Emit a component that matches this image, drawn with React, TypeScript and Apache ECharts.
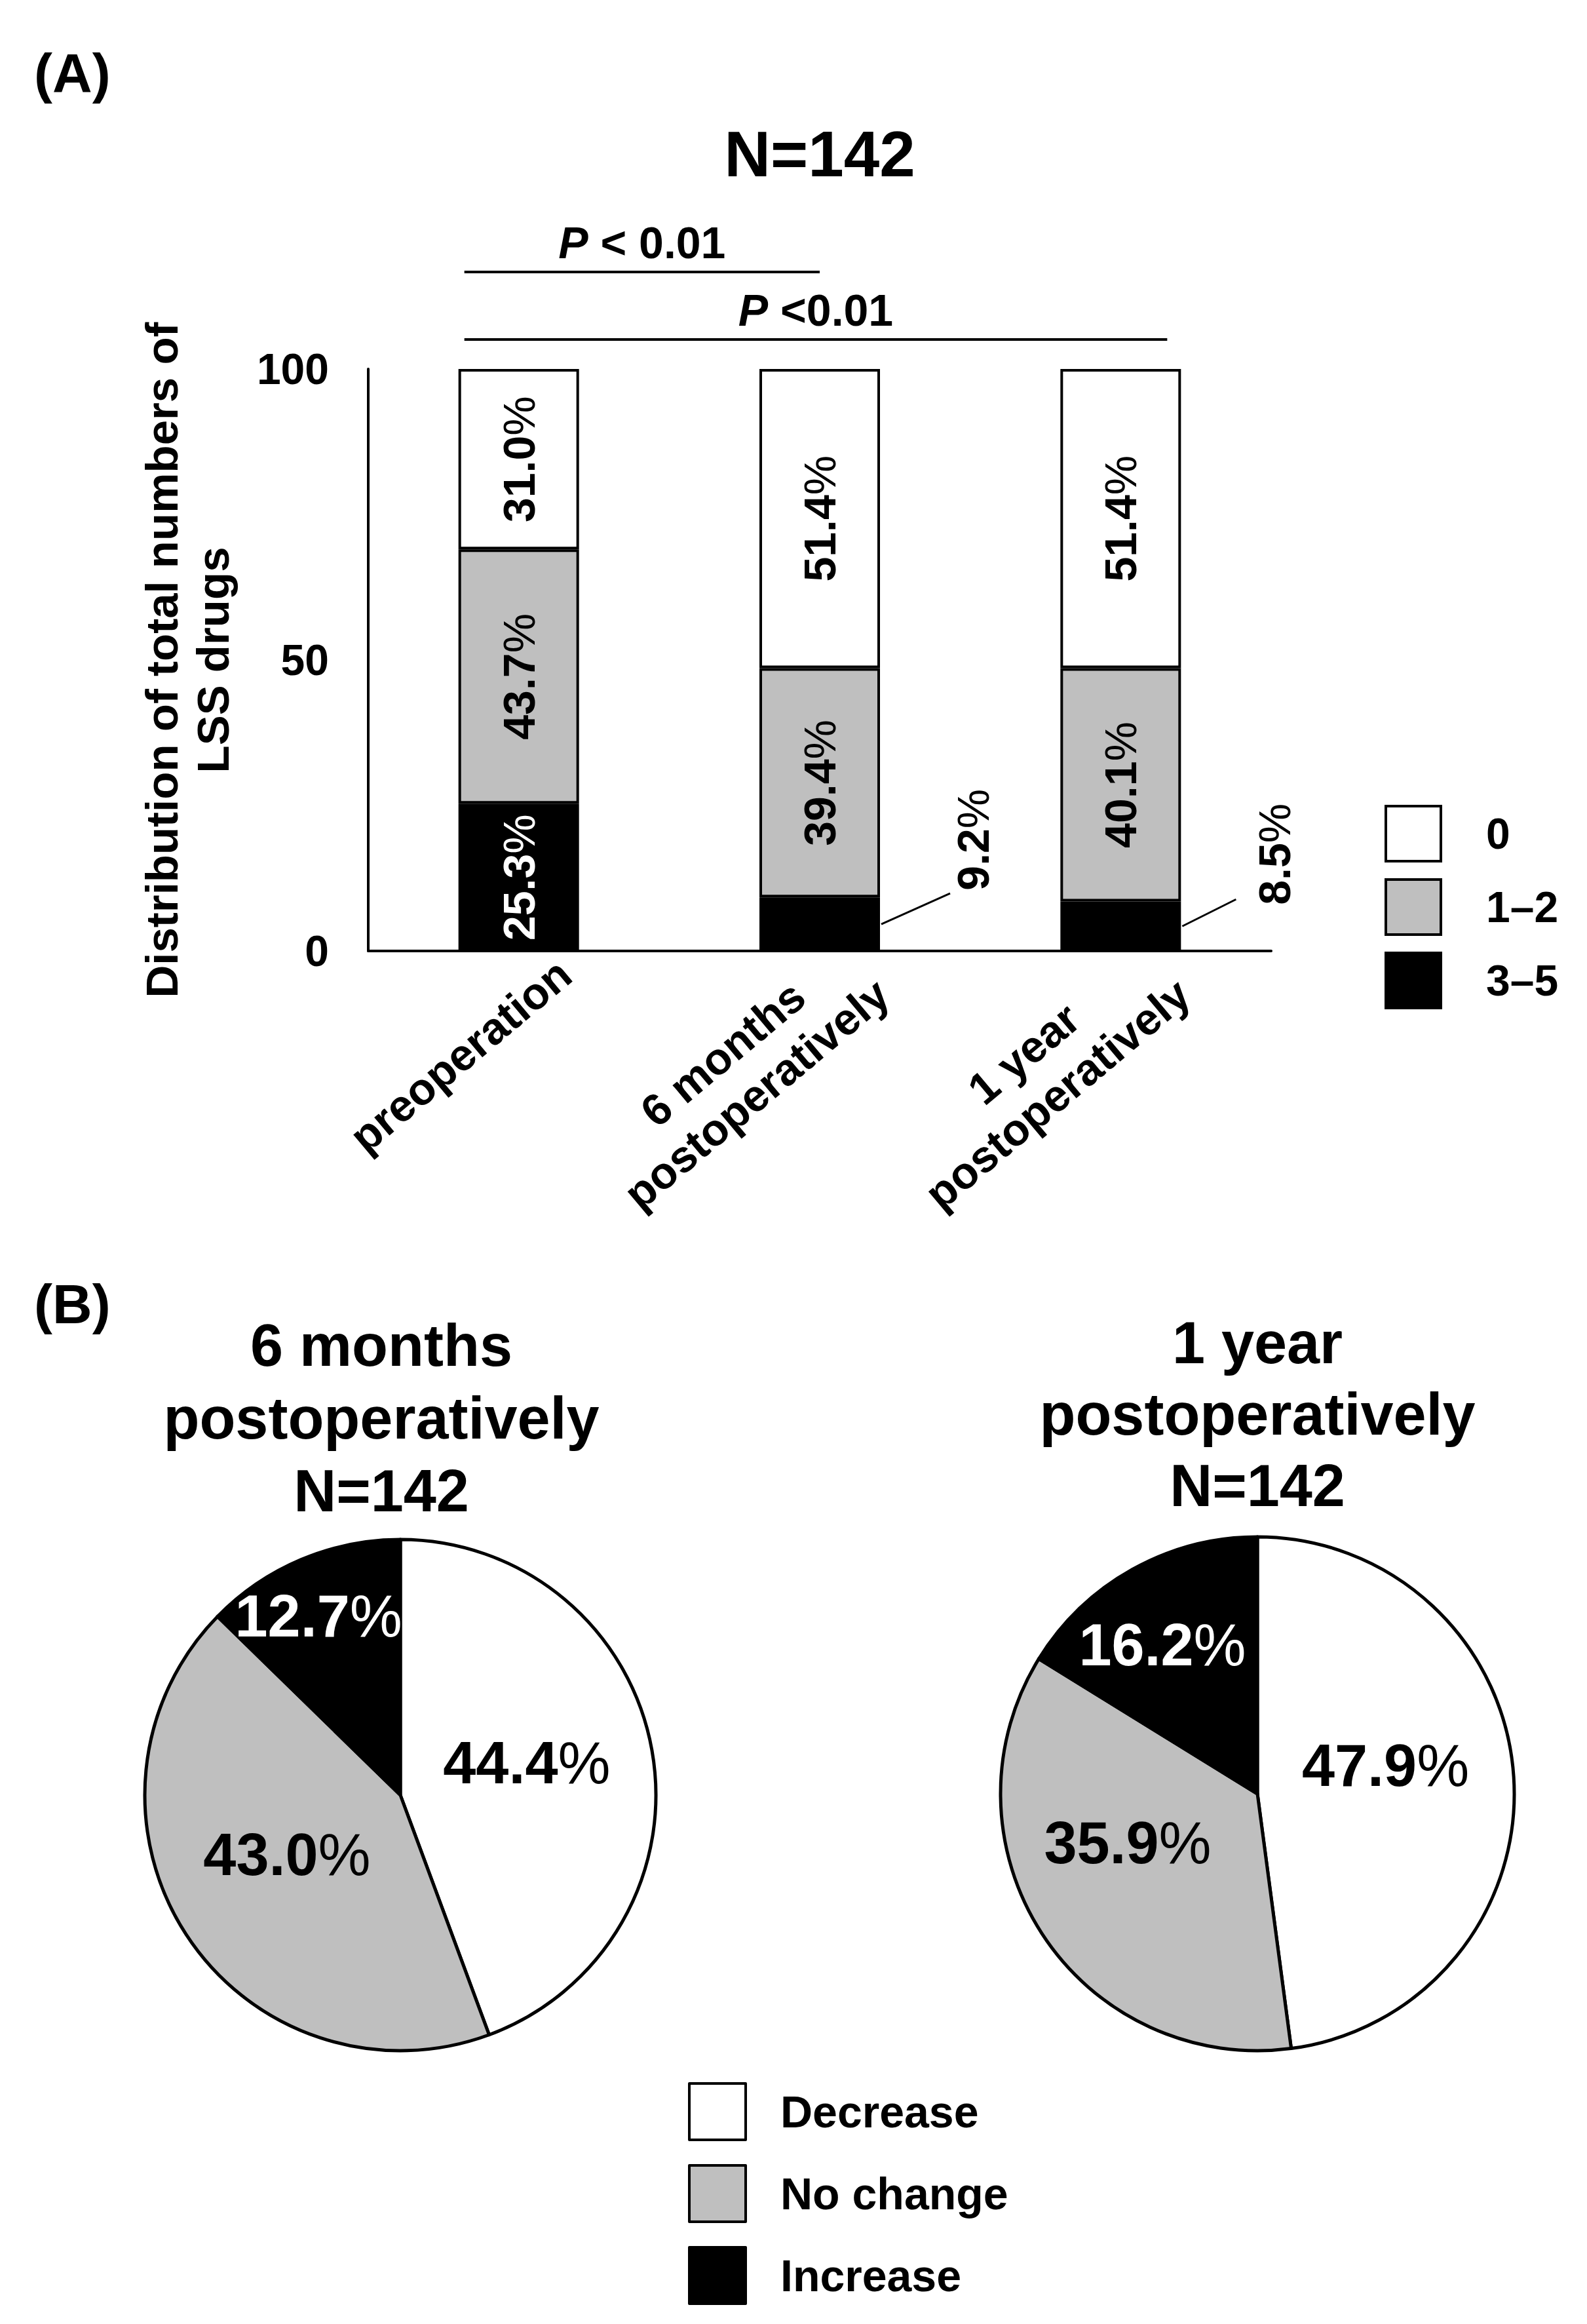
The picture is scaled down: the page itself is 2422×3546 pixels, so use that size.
import React, { useEffect, useRef } from 'react';
import * as echarts from 'echarts';

// ---------------- data ----------------
const categories = ['preoperation', '6 months\npostoperatively', '1 year\npostoperatively'];
const groupNames = ['3–5', '1–2', '0']; // stack order, bottom → top
const share35 = [25.3, 9.2, 8.5];
const share12 = [43.7, 39.4, 40.1];
const share0 = [31.0, 51.4, 51.4];
const yTicks = [0, 50, 100];
const legendOrder = ['0', '1–2', '3–5'];
const outsideLabelIdx = [1, 2];

const pieNames = ['Decrease', 'No change', 'Increase'];
const pie6Months = [44.4, 43.0, 12.7];
const pie1Year = [47.9, 35.9, 16.2];

const pTexts = ['P < 0.01', 'P <0.01'];
const mainTitle = 'N=142';
const pieTitles = ['6 months\npostoperatively\nN=142', '1 year\npostoperatively\nN=142'];
const panelLabels = ['(A)', '(B)'];

// ---------------- style / layout ----------------
const FONT = '"Liberation Sans", Arial, Helvetica, sans-serif';
const WHITE = '#FFFFFF';
const GRAY = '#BFBFBF';
const BLACK = '#000000';
const groupColors = [BLACK, GRAY, WHITE];
const groupLabelColors = [WHITE, BLACK, BLACK];
const pieColors = [WHITE, GRAY, BLACK];
const pieLabelColors = [BLACK, BLACK, WHITE];
const GRID = { left: 562, top: 563, width: 1378, height: 888 };
const BAR_W = 184;
const BORDER = 4;
const PIE_BORDER = 5;
const OUTSIDE_OFFSETS = [
  { label: [140, -129], line: [105, -47] },
  { label: [141, -110], line: [82, -41] },
];
const PIE_SHIFT = [
  [[-2, -14], [-7, -17], [-48, -91]],
  [[-3, -30], [-31, -33], [-48, -53]],
];

const pctRich = (size: number) => ({
  b: { fontSize: size, fontWeight: 'bold', fontFamily: FONT },
  r: { fontSize: size, fontWeight: 'normal', fontFamily: FONT },
});
const pctFmt = (v: number) => `{b|${v.toFixed(1)}}{r|%}`;

function textEl(id: string, x: number, y: number, text: string, size: number, extra: any = {}) {
  return {
    id,
    type: 'text',
    x,
    y,
    silent: true,
    style: {
      text,
      fontSize: size,
      fontWeight: 'bold',
      fontFamily: FONT,
      fill: BLACK,
      align: 'center',
      verticalAlign: 'middle',
      ...extra,
    },
  };
}

function pText(id: string, x: number, y: number, t: string) {
  return textEl(id, x, y, `{i|${t[0]}}{n|${t.slice(1)}}`, 68, {
    rich: {
      i: { fontSize: 68, fontWeight: 'bold', fontStyle: 'italic', fontFamily: FONT, fill: BLACK },
      n: { fontSize: 68, fontWeight: 'bold', fontFamily: FONT, fill: BLACK },
    },
  });
}

function buildGraphic() {
  // category centres of the band axis of the grid
  const band = GRID.width / categories.length;
  const catX = (i: number) => GRID.left + band * (i + 0.5);
  const top = GRID.top;
  const xStart = catX(0) - 83;
  const x1End = catX(1);
  const x2End = catX(2) + 71;
  const yL1 = top - 148;
  const yL2 = top - 45;
  return [
    textEl('panelA', 52, 112, panelLabels[0], 84, { align: 'left' }),
    textEl('panelB', 52, 1990, panelLabels[1], 84, { align: 'left' }),
    textEl('mainTitle', GRID.left + GRID.width / 2, 235, mainTitle, 98),
    textEl('pieTitle1', 582, 2164, pieTitles[0], 90, { lineHeight: 111 }),
    textEl('pieTitle2', 1919, 2158, pieTitles[1], 90, { lineHeight: 109 }),
    {
      id: 'pLine1',
      type: 'line',
      silent: true,
      shape: { x1: xStart, y1: yL1, x2: x1End, y2: yL1 },
      style: { stroke: BLACK, lineWidth: 4 },
    },
    {
      id: 'pLine2',
      type: 'line',
      silent: true,
      shape: { x1: xStart, y1: yL2, x2: x2End, y2: yL2 },
      style: { stroke: BLACK, lineWidth: 4 },
    },
    pText('pText1', (xStart + x1End) / 2, yL1 - 45, pTexts[0]),
    pText('pText2', (xStart + x2End) / 2, yL2 - 45, pTexts[1]),
  ];
}

function buildOption() {
  const barSets = [share35, share12, share0];
  const barSeries: any[] = barSets.map((arr, si) => ({
    type: 'bar',
    name: groupNames[si],
    stack: 'total',
    barWidth: BAR_W,
    itemStyle: { color: groupColors[si], borderColor: BLACK, borderWidth: BORDER },
    label: {
      show: true,
      position: 'inside',
      rotate: 90,
      color: groupLabelColors[si],
      formatter: (p: any) => pctFmt(Number(p.value)),
      rich: pctRich(68),
    },
    emphasis: { disabled: true },
    data: arr.map((v, i) =>
      si === 0 && outsideLabelIdx.includes(i) ? { value: v, label: { show: false } } : v
    ),
  }));

  const outsideSeries = {
    type: 'custom',
    name: 'outside',
    coordinateSystem: 'cartesian2d',
    silent: true,
    z: 5,
    data: outsideLabelIdx.map((i) => [i, share35[i]]),
    renderItem: (params: any, api: any) => {
      const ci = api.value(0);
      const v = api.value(1);
      const mid = api.coord([ci, v / 2]);
      const sx = mid[0] + BAR_W / 2 + BORDER / 2;
      const sy = mid[1];
      const off = OUTSIDE_OFFSETS[params.dataIndex];
      return {
        type: 'group',
        children: [
          {
            type: 'line',
            shape: { x1: sx, y1: sy, x2: sx + off.line[0], y2: sy + off.line[1] },
            style: { stroke: BLACK, lineWidth: 3 },
          },
          {
            type: 'text',
            x: sx + off.label[0],
            y: sy + off.label[1],
            rotation: Math.PI / 2,
            style: {
              text: pctFmt(v),
              rich: {
                b: { fontSize: 68, fontWeight: 'bold', fontFamily: FONT, fill: BLACK },
                r: { fontSize: 68, fontWeight: 'normal', fontFamily: FONT, fill: BLACK },
              },
              align: 'center',
              verticalAlign: 'middle',
              fill: BLACK,
            },
          },
        ],
      };
    },
  };

  const pieSeries = [pie6Months, pie1Year].map((vals, pi) => ({
    type: 'pie',
    name: pi === 0 ? 'pie6m' : 'pie1y',
    center: pi === 0 ? [611, 2739] : [1919, 2737],
    radius: pi === 0 ? 390 : 392,
    startAngle: 90,
    clockwise: true,
    avoidLabelOverlap: false,
    silent: true,
    emphasis: { disabled: true },
    itemStyle: { borderColor: BLACK, borderWidth: PIE_BORDER },
    label: {
      show: true,
      position: 'inside',
      formatter: (p: any) => pctFmt(Number(p.value)),
      rich: pctRich(90),
    },
    labelLine: { show: false },
    labelLayout: (p: any) => ({ dx: PIE_SHIFT[pi][p.dataIndex][0], dy: PIE_SHIFT[pi][p.dataIndex][1] }),
    data: pieNames.map((n, i) => ({
      name: n,
      value: vals[i],
      itemStyle: { color: pieColors[i] },
      label: { color: pieLabelColors[i] },
    })),
  }));

  return {
    animation: false,
    backgroundColor: '#FFFFFF',
    textStyle: { fontFamily: FONT },
    grid: { ...GRID, containLabel: false, outerBoundsMode: 'none' },
    graphic: { elements: buildGraphic() },
    legend: [
      {
        data: legendOrder,
        orient: 'vertical',
        left: 2108,
        top: 1223,
        itemWidth: 84,
        itemHeight: 84,
        itemGap: 24,
        icon: 'rect',
        selectedMode: false,
        itemStyle: { borderColor: BLACK, borderWidth: BORDER },
        textStyle: { fontSize: 66, fontWeight: 'bold', color: BLACK, fontFamily: FONT, padding: [0, 0, 0, 64] },
      },
      {
        data: pieNames,
        orient: 'vertical',
        left: 1045,
        top: 3172,
        itemWidth: 86,
        itemHeight: 86,
        itemGap: 35,
        icon: 'rect',
        selectedMode: false,
        itemStyle: { borderColor: BLACK, borderWidth: BORDER },
        textStyle: { fontSize: 68, fontWeight: 'bold', color: BLACK, fontFamily: FONT, padding: [0, 0, 0, 48] },
      },
    ],
    xAxis: {
      type: 'category',
      data: categories,
      axisLine: { show: true, lineStyle: { color: BLACK, width: BORDER } },
      axisTick: { show: false },
      splitLine: { show: false },
      axisLabel: {
        interval: 0,
        rotate: 40,
        margin: -58,
        align: 'right',
        verticalAlign: 'middle',
        padding: [218, 0, 0, 0],
        formatter: (v: string) => v.split('\n').map((s) => `{c|${s}}`).join('\n'),
        rich: {
          c: { align: 'center', fontSize: 68, fontWeight: 'bold', fontFamily: FONT, color: BLACK, lineHeight: 80 },
        },
      },
    },
    yAxis: {
      type: 'value',
      min: yTicks[0],
      max: yTicks[yTicks.length - 1],
      interval: yTicks[1] - yTicks[0],
      axisLine: { show: true, lineStyle: { color: BLACK, width: BORDER } },
      axisTick: { show: false },
      splitLine: { show: false },
      axisLabel: { margin: 60, fontSize: 66, fontWeight: 'bold', color: BLACK, fontFamily: FONT },
      name: 'Distribution of total numbers of\nLSS drugs',
      nameLocation: 'middle',
      nameRotate: 90,
      nameGap: 198,
      nameMoveOverlap: false,
      nameTextStyle: { fontSize: 69, fontWeight: 'bold', color: BLACK, fontFamily: FONT, lineHeight: 78 },
    },
    series: [...barSeries, outsideSeries, ...pieSeries],
  };
}

export default function App() {
  const ref = useRef<HTMLDivElement>(null);
  useEffect(() => {
    if (!ref.current) return;
    const chart = echarts.init(ref.current, undefined, { renderer: 'svg' });
    chart.setOption(buildOption() as any);
    return () => chart.dispose();
  }, []);

  return (
    <div
      ref={ref}
      style={{ position: 'absolute', left: 0, top: 0, width: 2422, height: 3546, background: '#fff' }}
    />
  );
}
